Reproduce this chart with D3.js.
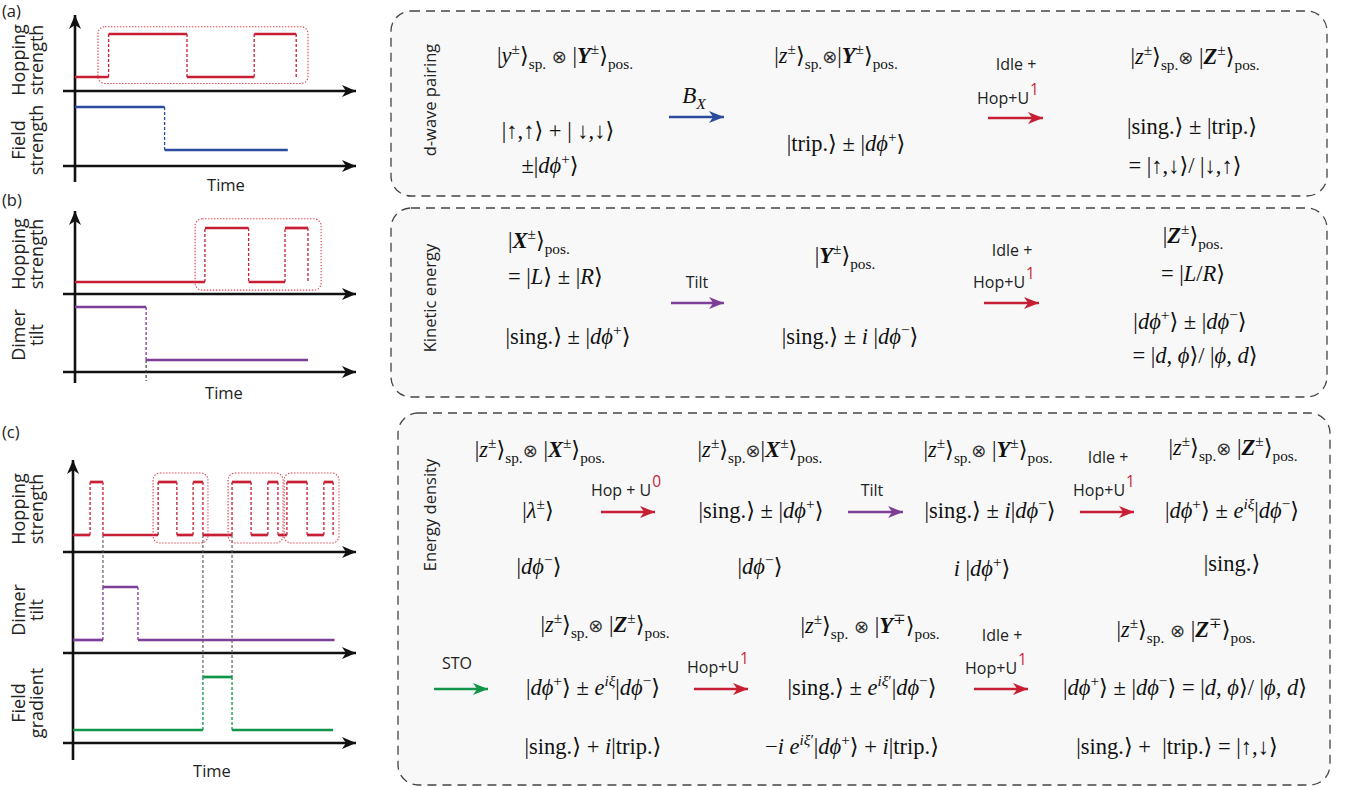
<!DOCTYPE html>
<html>
<head>
<meta charset="utf-8">
<script src="https://cdn.jsdelivr.net/npm/d3@7"></script>
<style>
  body { margin: 0; background: #fff; }
  text { white-space: pre; }
</style>
</head>
<body>
<svg id="fig" width="1345" height="787"></svg>
<script>
// ---- pulse sequences: change times (0..100 time units) and levels (0 low / 1 high)
// each segment i runs from t[i] to t[i+1] at level v[i]
const hopA_t   = [0, 12, 40, 64, 79, 79];
const hopA_v   = [0, 1, 0, 1, 0];
const fieldA_t = [0, 32, 76];
const fieldA_v = [1, 0];

const hopB_t   = [0, 46.4, 62, 75, 83.2, 83.2];
const hopB_v   = [0, 1, 0, 1, 0];
const tiltB_t  = [0, 25.4, 83.2];
const tiltB_v  = [1, 0];

const hopC_t   = [0, 6.1, 10.7, 30.4, 37.1, 42.9, 46.4, 56.8, 63.6, 69.6, 73.2, 76.4, 83.6, 89.6, 92.9, 92.9];
const hopC_v   = [0, 1, 0, 1, 0, 1, 0, 1, 0, 1, 0, 1, 0, 1, 0];
const tiltC_t  = [0, 10.7, 23.2, 93.4];
const tiltC_v  = [0, 1, 0];
const gradC_t  = [0, 46.4, 56.8, 92.9];
const gradC_v  = [0, 1, 0];

// dotted boxes round pulse groups: [t start, t end]
const groupsA = [[8.2, 83.2]];
const groupsB = [[42.9, 87.9]];
const groupsC = [[28.6, 48.2], [55.4, 75], [75.4, 95]];
// grey guide lines in (c): time of the guide
const guidesC = [10.7, 46.4, 56.8];

// ---- state texts (tiny markup: ^{} sup, _{} sub, «» roman, ** bold)
const statesA = [
  "|y^{±}⟩_{«sp.»} ⊗ |*Y*^{±}⟩_{«pos.»}", "|↑,↑⟩ + | ↓,↓⟩", "±|dϕ^{+}⟩",
  "|z^{±}⟩_{«sp.»}⊗|*Y*^{±}⟩_{«pos.»}", "|«trip.»⟩ ± |dϕ^{+}⟩",
  "|z^{±}⟩_{«sp.»}⊗ |*Z*^{±}⟩_{«pos.»}", "|«sing.»⟩ ± |«trip.»⟩", "= |↑,↓⟩/ |↓,↑⟩"
];
const statesB = [
  "|*X*^{±}⟩_{«pos.»}", "= |L⟩ ± |R⟩", "|«sing.»⟩ ± |dϕ^{+}⟩",
  "|*Y*^{±}⟩_{«pos.»}", "|«sing.»⟩ ± i |dϕ^{−}⟩",
  "|*Z*^{±}⟩_{«pos.»}", "= |L/R⟩", "|dϕ^{+}⟩ ± |dϕ^{−}⟩", "= |d, ϕ⟩/ |ϕ, d⟩"
];
const statesC = [
  "|z^{±}⟩_{«sp.»}⊗ |*X*^{±}⟩_{«pos.»}", "|λ^{±}⟩", "|dϕ^{−}⟩",
  "|z^{±}⟩_{«sp.»}⊗|*X*^{±}⟩_{«pos.»}", "|«sing.»⟩ ± |dϕ^{+}⟩", "|dϕ^{−}⟩",
  "|z^{±}⟩_{«sp.»}⊗ |*Y*^{±}⟩_{«pos.»}", "|«sing.»⟩ ± i|dϕ^{−}⟩", "i |dϕ^{+}⟩",
  "|z^{±}⟩_{«sp.»}⊗ |*Z*^{±}⟩_{«pos.»}", "|dϕ^{+}⟩ ± e^{iξ}|dϕ^{−}⟩", "|«sing.»⟩",
  "|z^{±}⟩_{«sp.»}⊗ |*Z*^{±}⟩_{«pos.»}", "|dϕ^{+}⟩ ± e^{iξ}|dϕ^{−}⟩", "|«sing.»⟩ + i|«trip.»⟩",
  "|z^{±}⟩_{«sp.»} ⊗ |*Y*^{∓}⟩_{«pos.»}", "|«sing.»⟩ ± e^{iξ′}|dϕ^{−}⟩", "−i e^{iξ′}|dϕ^{+}⟩ + i|«trip.»⟩",
  "|z^{±}⟩_{«sp.»} ⊗ |*Z*^{∓}⟩_{«pos.»}", "|dϕ^{+}⟩ ± |dϕ^{−}⟩ = |d, ϕ⟩/ |ϕ, d⟩", "|«sing.»⟩ +  |«trip.»⟩ = |↑,↓⟩"
];

const RED = "#c81e34", BLUE = "#2b4c9c", PURPLE = "#7e3f98", GREEN = "#119549";
const SANS = "'Open Sans', 'Noto Sans', sans-serif";
const SERIF = "'Liberation Serif', 'DejaVu Serif', serif";
const MATH_FS = 22.5;

const svg = d3.select("#fig");
svg.append("rect").attr("width", 1345).attr("height", 787).attr("fill", "#fff");

const defs = svg.append("defs");
function marker(id, color, len, half) {
  defs.append("marker").attr("id", id).attr("markerUnits", "userSpaceOnUse")
    .attr("viewBox", `${-len} ${-half} ${len} ${half * 2}`)
    .attr("markerWidth", len).attr("markerHeight", half * 2)
    .attr("refX", 0).attr("refY", 0).attr("orient", "auto")
    .append("path").attr("d", `M0,0 L${-len},${-half} L${-len * 0.72},0 L${-len},${half} Z`).attr("fill", color);
}
marker("axhead", "#111", 14, 6);
[["r", RED], ["b", BLUE], ["p", PURPLE], ["g", GREEN]].forEach(([k, c]) => marker("ah" + k, c, 15, 6));

// ---------- left: pulse sequences ----------
function rotLabel(g, lines, cy) {
  const xs = [25, 43];
  lines.forEach((s, i) => {
    g.append("text").attr("transform", `translate(${xs[i]},${cy}) rotate(-90)`)
      .attr("text-anchor", "middle").attr("font-family", SANS).attr("font-size", 18)
      .attr("fill", "#222").text(s);
  });
}

function steps(g, x, y, ts, vs, color) {
  const segs = vs.map((v, i) => ({ t0: ts[i], t1: ts[i + 1], v }));
  const jumps = segs.slice(1).map((d, i) => ({ t: d.t0, a: segs[i].v, b: d.v }));
  g.selectAll(null).data(jumps).join("line")
    .attr("x1", d => x(d.t)).attr("x2", d => x(d.t))
    .attr("y1", d => y(d.a)).attr("y2", d => y(d.b))
    .attr("stroke", color).attr("stroke-width", 1.3).attr("stroke-dasharray", "3,2");
  g.selectAll(null).data(segs.filter(d => d.t1 > d.t0)).join("line")
    .attr("x1", d => x(d.t0)).attr("x2", d => x(d.t1))
    .attr("y1", d => y(d.v)).attr("y2", d => y(d.v))
    .attr("stroke", color).attr("stroke-width", 2.7);
}

function groupBoxes(g, x, y, groups) {
  g.selectAll(null).data(groups).join("rect")
    .attr("x", d => x(d[0])).attr("width", d => x(d[1]) - x(d[0]))
    .attr("y", y(1.17)).attr("height", y(-0.15) - y(1.17))
    .attr("rx", 7).attr("fill", "none").attr("stroke", "#e2404f")
    .attr("stroke-width", 1.1).attr("stroke-dasharray", "1.4,1.6");
}

function panel(cfg) {
  const g = svg.append("g");
  const x = d3.scaleLinear().domain([0, 100]).range([cfg.x0, cfg.x0 + 280]);
  g.append("text").attr("x", 2).attr("y", cfg.tagY).attr("font-family", SANS)
    .attr("font-size", 16.5).attr("fill", "#222").text(cfg.tag);
  // axes
  g.append("line").attr("x1", cfg.x0).attr("x2", cfg.x0).attr("y1", cfg.vBottom).attr("y2", cfg.vTop)
    .attr("stroke", "#111").attr("stroke-width", 2.6).attr("marker-end", "url(#axhead)");
  cfg.rows.forEach(r => {
    g.append("line").attr("x1", 63).attr("x2", 356).attr("y1", r.axis).attr("y2", r.axis)
      .attr("stroke", "#111").attr("stroke-width", 2.6).attr("marker-end", "url(#axhead)");
  });
  g.append("text").attr("x", cfg.timeX).attr("y", cfg.timeY).attr("text-anchor", "middle")
    .attr("font-family", SANS).attr("font-size", 16.5).attr("fill", "#222").text("Time");
  const ys = cfg.rows.map(r => d3.scaleLinear().domain([0, 1]).range([r.lo, r.hi]));
  if (cfg.extra) cfg.extra(g, x, ys);
  cfg.rows.forEach((r, i) => {
    rotLabel(g, r.label, r.cy);
    steps(g, x, ys[i], r.t, r.v, r.color);
    if (r.groups) groupBoxes(g, x, ys[i], r.groups);
  });
}

panel({
  tag: "(a)", tagY: 17, x0: 75, vTop: 15, vBottom: 182, timeX: 226, timeY: 191,
  rows: [
    { label: ["Hopping", "strength"], cy: 60, axis: 91, lo: 77, hi: 34, t: hopA_t, v: hopA_v, color: RED, groups: groupsA },
    { label: ["Field", "strength"], cy: 140, axis: 166, lo: 150, hi: 107, t: fieldA_t, v: fieldA_v, color: BLUE }
  ]
});

panel({
  tag: "(b)", tagY: 206, x0: 75, vTop: 211, vBottom: 383, timeX: 224, timeY: 399,
  rows: [
    { label: ["Hopping", "strength"], cy: 254, axis: 294, lo: 282, hi: 228, t: hopB_t, v: hopB_v, color: RED, groups: groupsB },
    { label: ["Dimer", "tilt"], cy: 335, axis: 372, lo: 360, hi: 307, t: tiltB_t, v: tiltB_v, color: PURPLE }
  ],
  extra: (g, x, ys) => {
    g.append("line").attr("x1", x(tiltB_t[1])).attr("x2", x(tiltB_t[1]))
      .attr("y1", ys[1](0)).attr("y2", 381).attr("stroke", "#333")
      .attr("stroke-width", 1.1).attr("stroke-dasharray", "3,2");
  }
});

panel({
  tag: "(c)", tagY: 438, x0: 73, vTop: 460, vBottom: 760, timeX: 212, timeY: 777,
  rows: [
    { label: ["Hopping", "strength"], cy: 509, axis: 552, lo: 535, hi: 482, t: hopC_t, v: hopC_v, color: RED, groups: groupsC },
    { label: ["Dimer", "tilt"], cy: 610, axis: 653, lo: 640, hi: 587, t: tiltC_t, v: tiltC_v, color: PURPLE },
    { label: ["Field", "gradient"], cy: 703, axis: 743, lo: 730, hi: 677, t: gradC_t, v: gradC_v, color: GREEN }
  ],
  extra: (g, x, ys) => {
    g.selectAll(null).data(guidesC).join("line")
      .attr("x1", d => x(d)).attr("x2", d => x(d))
      .attr("y1", ys[0](0)).attr("y2", (d, i) => i === 0 ? ys[1](1) : ys[2](1))
      .attr("stroke", "#555").attr("stroke-width", 1.1).attr("stroke-dasharray", "3,2");
  }
});

// ---------- right: state boxes ----------
function parseMath(src) {
  const runs = [];
  let level = 0, roman = false, bold = false;
  for (let i = 0; i < src.length; i++) {
    const c = src[i];
    if ((c === "^" || c === "_") && src[i + 1] === "{") { level = c === "^" ? 1 : -1; i++; continue; }
    if (c === "}") { level = 0; continue; }
    if (c === "«") { roman = true; continue; }
    if (c === "»") { roman = false; continue; }
    if (c === "*") { bold = !bold; continue; }
    const it = !roman && /[A-Za-zλϕξ]/.test(c);
    const sym = c === "⊗";
    const last = runs[runs.length - 1];
    if (last && !sym && !last.sym && last.level === level && last.it === it && last.bold === bold) last.s += c;
    else runs.push({ s: c, level, it, bold, sym });
  }
  return runs;
}

function mathText(g, x, y, src, anchor, fs) {
  fs = fs || MATH_FS;
  const t = g.append("text").attr("x", x).attr("y", y).attr("text-anchor", anchor || "middle")
    .attr("font-family", SERIF).attr("font-size", fs).attr("fill", "#111");
  let cur = 0;
  parseMath(src).forEach(r => {
    const off = r.level === 1 ? -0.4 * fs : r.level === -1 ? 0.28 * fs : 0;
    const sp = t.append("tspan").attr("dy", off - cur)
      .attr("font-size", r.level ? fs * 0.68 : r.sym ? fs * 0.8 : fs)
      .attr("font-style", r.it ? "italic" : "normal")
      .attr("font-weight", r.bold ? "bold" : "normal")
      .text(r.s);
    if (r.sym) sp.attr("font-family", "'DejaVu Sans', sans-serif").attr("fill", "#333");
    cur = off;
  });
}

function sansText(g, x, y, s, sup) {
  const t = g.append("text").attr("x", x).attr("y", y).attr("text-anchor", "middle")
    .attr("font-family", SANS).attr("font-size", 16).attr("fill", "#222").text(s);
  if (sup !== undefined) t.append("tspan").attr("dy", -9).attr("dx", 1).attr("fill", RED).attr("font-size", 15.5).text(sup);
}

function arrow(g, x1, x2, y, key, color) {
  g.append("line").attr("x1", x1).attr("x2", x2).attr("y1", y).attr("y2", y)
    .attr("stroke", color).attr("stroke-width", 2.6).attr("marker-end", `url(#ah${key})`);
}

function box(x, y, w, h, title, ty) {
  const g = svg.append("g");
  g.append("rect").attr("x", x).attr("y", y).attr("width", w).attr("height", h).attr("rx", 20)
    .attr("fill", "#f8f8f8").attr("stroke", "#444").attr("stroke-width", 1.3).attr("stroke-dasharray", "9,6");
  g.append("text").attr("transform", `translate(436,${ty}) rotate(-90)`).attr("text-anchor", "middle")
    .attr("font-family", SANS).attr("font-size", 16.5).attr("fill", "#222").text(title);
  return g;
}

// (a) d-wave pairing
const gA = box(391, 11, 936, 185, "d-wave pairing", 100);
[[565, 63, "middle"], [558, 138, "middle"], [550, 173, "middle"],
 [836, 63, "middle"], [846, 151, "middle"],
 [1195, 64, "middle"], [1192, 134, "middle"], [1185, 173, "middle"]]
  .forEach((p, i) => mathText(gA, p[0], p[1], statesA[i], p[2]));
mathText(gA, 694, 103, "B_{X}", "middle", 23);
arrow(gA, 669, 724, 117, "b", BLUE);
sansText(gA, 1016, 70, "Idle +");
sansText(gA, 1008, 104, "Hop+U", "1");
arrow(gA, 988, 1043, 118, "r", RED);

// (b) kinetic energy
const gB = box(391, 208, 936, 189, "Kinetic energy", 298);
[[508, 248, "start"], [508, 284, "start"], [568, 344, "middle"],
 [845, 263, "middle"], [850, 344, "middle"],
 [1193, 243, "middle"], [1193, 281, "middle"], [1190, 329, "middle"], [1195, 363, "middle"]]
  .forEach((p, i) => mathText(gB, p[0], p[1], statesB[i], p[2]));
sansText(gB, 697, 288, "Tilt");
arrow(gB, 671, 724, 303, "p", PURPLE);
sansText(gB, 1012, 256, "Idle +");
sansText(gB, 1004, 288, "Hop+U", "1");
arrow(gB, 984, 1039, 303, "r", RED);

// (c) energy density
const gC = box(398, 413, 932, 372, "Energy density", 515);
[[540, 457], [538, 518], [539, 574],
 [760, 457], [761, 518], [760, 574],
 [988, 457], [990, 518], [982, 576],
 [1233, 455], [1232, 518], [1232, 571],
 [605, 632], [593, 695], [593, 754],
 [870, 633], [862, 695], [852, 754],
 [1186, 637], [1185, 695], [1177, 754]]
  .forEach((p, i) => mathText(gC, p[0], p[1], statesC[i], "middle"));
sansText(gC, 626, 496, "Hop + U", "0");
arrow(gC, 601, 655, 512, "r", RED);
sansText(gC, 872, 496, "Tilt");
arrow(gC, 848, 903, 512, "p", PURPLE);
sansText(gC, 1108, 463, "Idle +");
sansText(gC, 1104, 496, "Hop+U", "1");
arrow(gC, 1080, 1134, 512, "r", RED);
sansText(gC, 457, 669, "STO");
arrow(gC, 434, 488, 689, "g", GREEN);
sansText(gC, 718, 673, "Hop+U", "1");
arrow(gC, 694, 748, 689, "r", RED);
sansText(gC, 1002, 641, "Idle +");
sansText(gC, 996, 674, "Hop+U", "1");
arrow(gC, 974, 1028, 689, "r", RED);
</script>
</body>
</html>
